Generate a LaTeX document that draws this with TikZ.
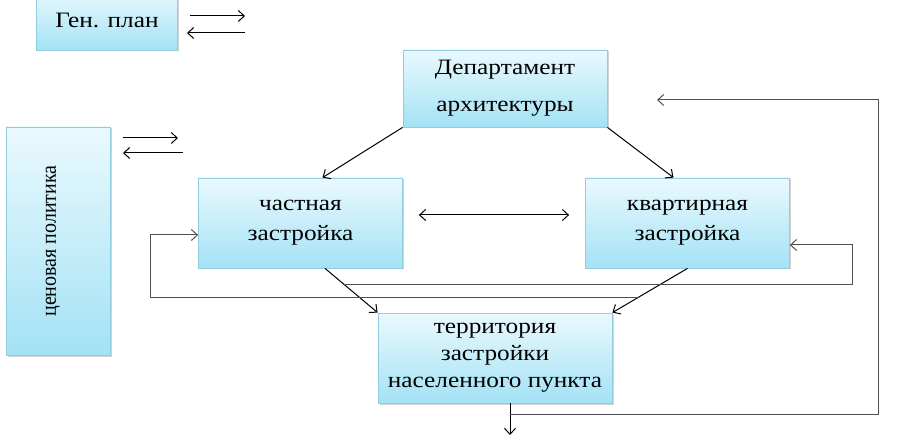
\documentclass[tikz,border=0pt]{standalone}
\usepackage{fontspec}
\setmainfont[FakeStretch=1.15]{Liberation Serif}
\newfontfamily\narrowserif[FakeStretch=0.93]{Liberation Serif}
\usetikzlibrary{arrows.meta,shadows,calc}
\definecolor{boxtop}{HTML}{EAF9FD}
\definecolor{boxbot}{HTML}{A3E2F5}
\definecolor{boxline}{HTML}{92CCDF}
\definecolor{loopgray}{HTML}{505050}
\tikzset{
  box/.style={draw=boxline, line width=0.8pt, top color=boxtop, bottom color=boxbot,
    drop shadow={shadow xshift=1.5pt, shadow yshift=-1.5pt, opacity=0.35},
    align=center, inner sep=0pt, font=\fontsize{22}{32}\selectfont},
  conn/.style={line width=1pt, -{Straight Barb[length=6pt,width=11pt]}},
  loopline/.style={conn, draw=loopgray}
}
\begin{document}
\begin{tikzpicture}[x=1pt,y=-1pt]
\useasboundingbox (0,0) rectangle (910,438);
% boxes
\node[box, minimum width=141pt, minimum height=60pt] (gen) at (107,20) {Ген. план};
\node[box, minimum width=104pt, minimum height=228pt] (price) at (58,241) {};
\node[rotate=90, font=\narrowserif\fontsize{21.5}{24}\selectfont] (pricetext) at ([xshift=-5pt]price.center) {ценовая политика};
\node[box, minimum width=204pt, minimum height=77pt, font=\fontsize{22}{37}\selectfont] (dept) at (505,88.5) {Департамент\\архитектуры};
\node[box, minimum width=204pt, minimum height=90pt, font=\fontsize{22}{30}\selectfont] (priv) at (300.5,223) {частная\\застройка\rule[-6pt]{0pt}{1pt}};
\node[box, minimum width=204pt, minimum height=90pt, font=\fontsize{22}{30}\selectfont] (apt) at (687.5,223) {квартирная\\застройка\rule[-6pt]{0pt}{1pt}};
\node[box, minimum width=234pt, minimum height=90pt, font=\fontsize{22}{27}\selectfont] (terr) at (495,358) {территория\\застройки\\населенного пункта};
% arrows beside left boxes
\coordinate (g1) at (190,16); \coordinate (g2) at (245,16);
\coordinate (g3) at (245,33); \coordinate (g4) at (187,33);
\draw[conn] (g1) -- (g2);
\draw[conn] (g3) -- (g4);
\coordinate (p1) at (123,138); \coordinate (p2) at (178,138);
\coordinate (p3) at (183,153); \coordinate (p4) at (123,153);
\draw[conn] (p1) -- (p2);
\draw[conn] (p3) -- (p4);
% department to the two kinds
\draw[conn] (dept.south west) -- ([xshift=22pt]priv.north);
\draw[conn] (dept.south east) -- ([xshift=-14pt]apt.north);
\draw[line width=1pt, {Straight Barb[length=6pt,width=11pt]}-{Straight Barb[length=6pt,width=11pt]}]
  ([xshift=16pt,yshift=8pt]priv.east) -- ([xshift=-16pt,yshift=8pt]apt.west);
% to territory
\coordinate (ps) at ([xshift=24.5pt]priv.south);
\draw[conn] (ps) -- (terr.north west);
\draw[conn] (apt.south) -- (terr.north east);
% loops
\coordinate (l1) at ($(ps)!0.36!(terr.north west)$);
\coordinate (l2) at ($(apt.south)!0.66!(terr.north east)$);
\coordinate (rc) at (852,245);
\coordinate (lc) at (150,235);
\draw[loopline] (l1) -| (rc) -- (rc -| apt.east);
\draw[loopline] (l2) -| (lc) -- (lc -| priv.west);
% territory output and feedback
\coordinate (td) at ([xshift=15pt]terr.south);
\coordinate (tdend) at (510,435);
\draw[conn] (td) -- (tdend);
\coordinate (fb1) at (510,414);
\coordinate (fbc) at (878,100);
\coordinate (fbend) at (657,100);
\draw[loopline] (fb1) -| (fbc) -- (fbend);
\end{tikzpicture}
\end{document}
